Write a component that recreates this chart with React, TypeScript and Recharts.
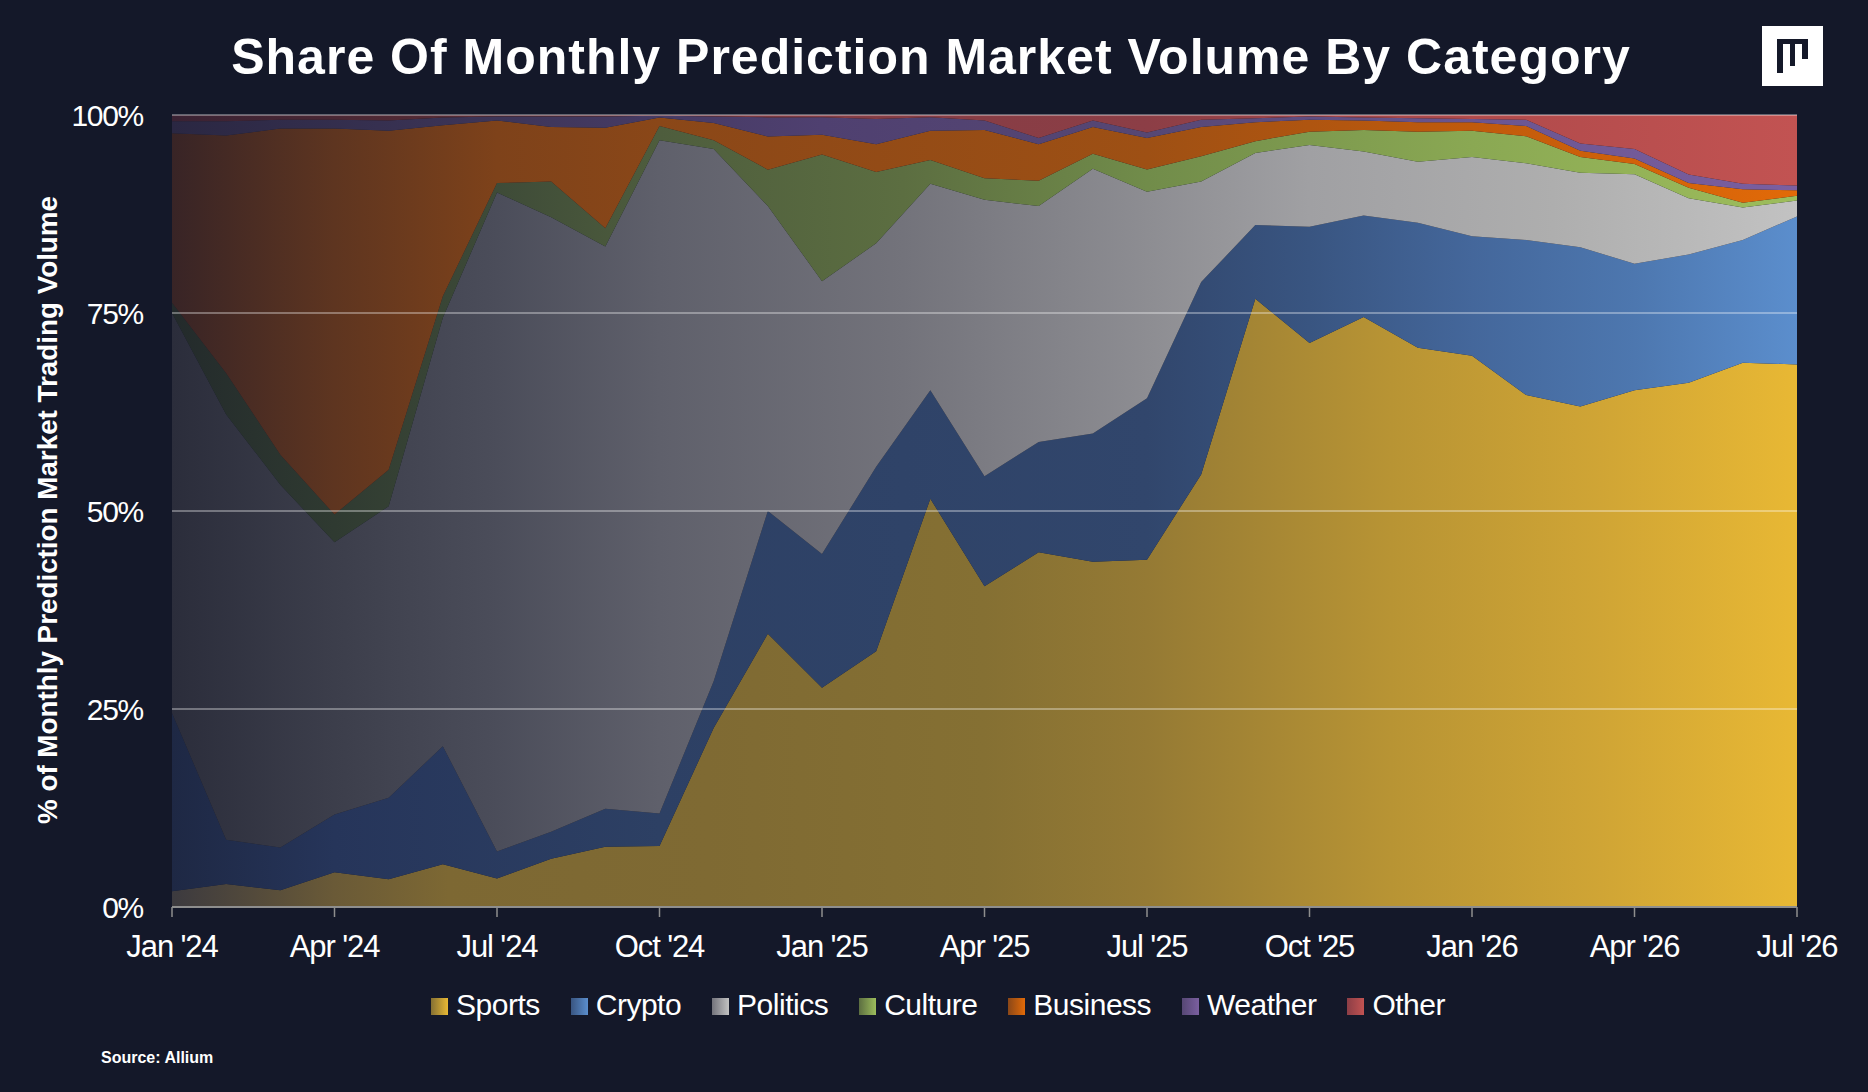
import React from 'react';
import { AreaChart, Area, XAxis, YAxis, ReferenceLine } from 'recharts';

// Monthly share by category (percent of volume)
const MONTHS = [
    "Jan '24", "Feb '24", "Mar '24", "Apr '24", "May '24", "Jun '24", "Jul '24", "Aug '24", "Sep '24", "Oct '24", "Nov '24", "Dec '24",
    "Jan '25", "Feb '25", "Mar '25", "Apr '25", "May '25", "Jun '25", "Jul '25", "Aug '25", "Sep '25", "Oct '25", "Nov '25", "Dec '25",
    "Jan '26", "Feb '26", "Mar '26", "Apr '26", "May '26", "Jun '26", "Jul '26",
];

const SPORTS = [2.0, 2.9, 2.1, 4.4, 3.5, 5.4, 3.6, 6.1, 7.6, 7.7, 22.6, 34.5, 27.7, 32.3, 51.6, 40.5, 44.8, 43.6, 43.9, 54.6, 76.8, 71.2, 74.5, 70.6, 69.6, 64.7, 63.2, 65.3, 66.2, 68.8, 68.5];
const CRYPTO = [22.5, 5.6, 5.4, 7.3, 10.3, 14.9, 3.4, 3.4, 4.8, 4.1, 5.9, 15.5, 16.9, 23.3, 13.7, 13.9, 13.9, 16.2, 20.4, 24.3, 9.3, 14.7, 12.8, 15.8, 15.1, 19.6, 20.1, 16.0, 16.2, 15.5, 18.7];
const POLITICS = [50.5, 53.7, 45.8, 34.4, 36.8, 54.1, 83.2, 77.6, 71.0, 85.0, 67.2, 38.5, 34.5, 28.2, 26.1, 34.9, 29.8, 33.4, 26.1, 12.7, 9.1, 10.3, 8.1, 7.7, 10.0, 9.7, 9.4, 11.3, 7.1, 4.1, 2.0];
const CULTURE = [1.3, 5.2, 3.8, 3.5, 4.6, 2.7, 1.2, 4.5, 2.3, 1.8, 1.1, 4.6, 16.0, 9.0, 3.0, 2.7, 3.2, 1.9, 2.8, 3.2, 1.5, 1.7, 2.7, 3.8, 3.3, 3.4, 2.0, 1.3, 1.3, 0.6, 0.6];
const BUSINESS = [21.4, 30.0, 41.2, 48.8, 42.8, 21.6, 7.9, 6.9, 12.7, 1.1, 2.2, 4.2, 2.5, 3.5, 3.7, 6.1, 4.6, 3.4, 4.0, 3.7, 2.4, 1.5, 1.2, 1.2, 1.1, 1.3, 0.8, 0.7, 0.6, 1.7, 0.7];
const WEATHER = [1.5, 1.8, 1.1, 1.1, 1.3, 1.0, 0.5, 1.3, 1.4, 0.2, 0.8, 2.4, 2.2, 3.2, 1.7, 1.2, 0.8, 0.8, 0.7, 0.9, 0.5, 0.4, 0.4, 0.5, 0.4, 0.8, 0.9, 1.2, 1.1, 0.7, 0.6];
const OTHER = [0.8, 0.8, 0.6, 0.6, 0.7, 0.3, 0.2, 0.2, 0.2, 0.1, 0.2, 0.3, 0.3, 0.5, 0.3, 0.7, 2.9, 0.7, 2.2, 0.6, 0.4, 0.2, 0.3, 0.4, 0.5, 0.6, 3.6, 4.3, 7.5, 8.7, 8.9];

const Y_TICKS = [0, 0.25, 0.5, 0.75, 1];
const GRID_LINES = [0.25, 0.5, 0.75, 1];

const data = MONTHS.map((month, i) => ({
    month,
    Sports: SPORTS[i],
    Crypto: CRYPTO[i],
    Politics: POLITICS[i],
    Culture: CULTURE[i],
    Business: BUSINESS[i],
    Weather: WEATHER[i],
    Other: OTHER[i],
}));

// gradient stops run left (dark) to right (bright)
const SERIES = [
    { key: 'Sports', stops: [[0, '#3c3a3f'], [0.1, '#6a5a37'], [0.17, '#7d6833'], [0.33, '#7f6a33'], [0.5, '#857033'], [0.6, '#957a34'], [0.75, '#b89434'], [0.88, '#d0a535'], [1, '#e8b834']] },
    { key: 'Crypto', stops: [[0, '#1e2844'], [0.1, '#26355a'], [0.3, '#2d4064'], [0.6, '#31466c'], [0.7, '#395581'], [0.8, '#44679b'], [0.9, '#4d77af'], [1, '#5b8ecd']] },
    { key: 'Politics', stops: [[0, '#2b2d3b'], [0.1, '#3c3e4b'], [0.2, '#4b4d5a'], [0.3, '#5f606b'], [0.45, '#73737b'], [0.6, '#8d8d92'], [0.7, '#a0a0a3'], [0.85, '#aeaeae'], [1, '#c2c2c2']] },
    { key: 'Culture', stops: [[0, '#232a2b'], [0.1, '#2f3a31'], [0.2, '#3e4b38'], [0.3, '#4e5d3d'], [0.45, '#5c6e41'], [0.6, '#718c4a'], [0.8, '#8aa853'], [1, '#9dbd5c']] },
    { key: 'Business', stops: [[0, '#382426'], [0.1, '#5e3520'], [0.2, '#7e421a'], [0.3, '#8a4718'], [0.6, '#9e5014'], [0.8, '#c05a0c'], [1, '#e26a08']] },
    { key: 'Weather', stops: [[0, '#2a2742'], [0.2, '#3d3558'], [0.4, '#4f4070'], [0.6, '#564774'], [0.8, '#6a5590'], [1, '#7b5fa0']] },
    { key: 'Other', stops: [[0, '#3a2233'], [0.2, '#5a2c35'], [0.4, '#843c44'], [0.6, '#8c3e46'], [0.8, '#b04a4b'], [1, '#c25352']] },
];

const BG = '#141829';
const TICK_FONT = "'Liberation Sans Narrow', 'Liberation Sans', Arial, sans-serif";

function Logo() {
    return (
        <svg width={61} height={60} style={{ position: 'absolute', left: 1762, top: 26 }}>
            <rect x={0} y={0} width={61} height={60} fill="#ffffff" />
            <rect x={15} y={13} width={31} height={5} fill="#141829" />
            <rect x={15} y={13} width={6} height={34} fill="#141829" />
            <rect x={28} y={13} width={5} height={27} fill="#141829" />
            <rect x={40} y={13} width={6} height={20} fill="#141829" />
        </svg>
    );
}

function ChartLegend() {
    return (
        <div style={{
            position: 'absolute',
            left: 0,
            width: 1868,
            top: 988,
            display: 'flex',
            justifyContent: 'center',
            paddingLeft: 8,
            boxSizing: 'border-box',
            gap: 31,
            fontFamily: TICK_FONT,
            fontSize: 30,
            color: '#ffffff',
        }}>
            {SERIES.map(s => (
                <div key={s.key} style={{ display: 'flex', alignItems: 'center' }}>
                    <div style={{
                        width: 17,
                        height: 17,
                        marginRight: 8,
                        marginTop: 2,
                        background: `linear-gradient(to right, ${s.stops[Math.floor(s.stops.length / 2)][1]}, ${s.stops[s.stops.length - 1][1]})`,
                    }} />
                    <span style={{ letterSpacing: -0.5 }}>{s.key}</span>
                </div>
            ))}
        </div>
    );
}

export default function App() {
    return (
        <div style={{ position: 'absolute', left: 0, top: 0, width: 1868, height: 1092, background: BG, overflow: 'hidden' }}>
            <div style={{
                position: 'absolute',
                left: 0,
                width: 1862,
                top: 26,
                textAlign: 'center',
                color: '#ffffff',
                fontFamily: "'Liberation Sans', Arial, sans-serif",
                fontWeight: 700,
                fontSize: 50,
                letterSpacing: 1,
                lineHeight: '62px',
            }}>
                Share Of Monthly Prediction Market Volume By Category
            </div>
            <Logo />

            <div style={{
                position: 'absolute',
                left: 48,
                top: 510,
                transform: 'translate(-50%, -50%) rotate(-90deg)',
                whiteSpace: 'nowrap',
                color: '#ffffff',
                fontFamily: "'Liberation Sans', Arial, sans-serif",
                fontWeight: 700,
                fontSize: 27.8,
            }}>
                % of Monthly Prediction Market Trading Volume
            </div>

            <div style={{ position: 'absolute', left: 0, top: 0 }}>
                <AreaChart
                    width={1868}
                    height={1092}
                    data={data}
                    stackOffset="expand"
                    margin={{ top: 115, right: 71, left: 72, bottom: 125 }}
                >
                    <defs>
                        {SERIES.map(s => (
                            <linearGradient key={s.key} id={`grad-${s.key}`} x1="0" y1="0" x2="1" y2="0">
                                {s.stops.map(([offset, color]) => (
                                    <stop key={String(offset)} offset={offset as number} stopColor={color as string} />
                                ))}
                            </linearGradient>
                        ))}
                    </defs>
                    <XAxis
                        dataKey="month"
                        interval={2}
                        height={60}
                        axisLine={{ stroke: '#8e8e8e', strokeWidth: 2 }}
                        tickLine={{ stroke: '#8e8e8e', strokeWidth: 1.5 }}
                        tickSize={10}
                        tickMargin={18}
                        tick={{ fill: '#ffffff', fontSize: 31, fontFamily: TICK_FONT, letterSpacing: -1.1 }}
                    />
                    <YAxis
                        type="number"
                        domain={[0, 1]}
                        ticks={Y_TICKS}
                        width={100}
                        axisLine={false}
                        tickLine={false}
                        tickSize={0}
                        tickMargin={29}
                        tickFormatter={(v: number) => `${Math.round(v * 100)}%`}
                        tick={{ fill: '#ffffff', fontSize: 30, fontFamily: TICK_FONT, letterSpacing: -1.3 }}
                    />
                    {SERIES.map(s => (
                        <Area
                            key={s.key}
                            type="linear"
                            dataKey={s.key}
                            stackId="1"
                            stroke="none"
                            fill={`url(#grad-${s.key})`}
                            fillOpacity={1}
                            isAnimationActive={false}
                        />
                    ))}
                    {GRID_LINES.map(y => (
                        <ReferenceLine key={y} y={y} stroke="rgba(255,255,255,0.45)" strokeWidth={1.5} />
                    ))}
                </AreaChart>
            </div>

            <ChartLegend />

            <div style={{
                position: 'absolute',
                left: 101,
                top: 1049,
                color: '#ffffff',
                fontFamily: TICK_FONT,
                fontWeight: 700,
                fontSize: 16,
            }}>
                Source: Allium
            </div>
        </div>
    );
}
